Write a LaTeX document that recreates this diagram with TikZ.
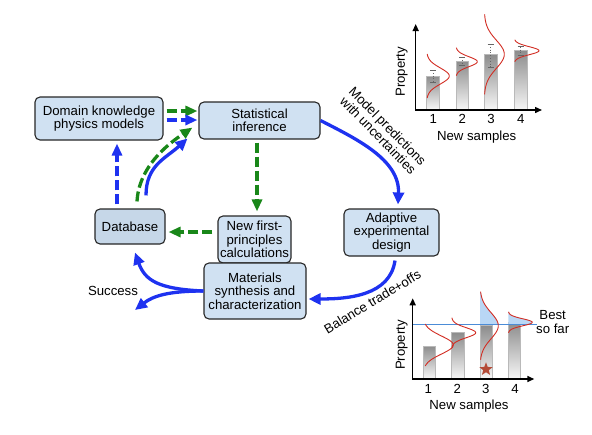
\documentclass[tikz,border=0pt]{standalone}
\usepackage{fontspec}
\setmainfont{Liberation Sans}
\usetikzlibrary{arrows.meta,shapes.geometric,positioning}
\definecolor{boxblue}{RGB}{208,225,242}
\definecolor{dbblue}{RGB}{198,215,232}
\definecolor{arrblue}{RGB}{30,50,240}
\definecolor{arrgreen}{RGB}{25,135,25}
\definecolor{gaussred}{RGB}{210,45,35}
\definecolor{bestblue}{RGB}{75,140,215}
\definecolor{shadeblue}{RGB}{185,215,245}
\definecolor{starred}{RGB}{180,75,55}

\begin{document}
\begin{tikzpicture}[x=1pt,y=1pt,
    box/.style={draw=black!85, line width=1.1pt, rounded corners=5pt, fill=boxblue, align=center, inner sep=0pt, font=\fontsize{13.2}{13.3}\selectfont},
    flow/.style={arrblue, line width=3.3pt, -{Triangle[length=12pt,width=11pt]}},
    bluedash/.style={arrblue, line width=3.3pt, dash pattern=on 10pt off 4pt, -{Triangle[length=12pt,width=10pt]}},
    greendash/.style={arrgreen, line width=3.3pt, dash pattern=on 10pt off 4pt, -{Triangle[length=12pt,width=10pt]}},
    lbl/.style={font=\fontsize{13.2}{13.3}\selectfont, inner sep=0pt, align=center},
    axis/.style={line width=1.4pt, {Triangle[length=7pt,width=6pt]}-{Triangle[length=7pt,width=6pt]}},
    bar/.style={draw=gray!55, line width=0.8pt, top color=gray!90, bottom color=gray!8},
    gauss/.style={gaussred, line width=0.9pt}]
  \useasboundingbox (0,0) rectangle (592,-434);

  % boxes of the loop
  \node[box, minimum width=128pt, minimum height=43pt] (dk) at (99,-118.5) {Domain knowledge\\physics models};
  \node[box, minimum width=121pt, minimum height=37pt] (st) at (259.5,-120.5) {Statistical\\inference};
  \node[box, fill=dbblue, minimum width=70pt, minimum height=35pt] (db) at (130,-226.5) {Database};
  \node[box, minimum width=73pt, minimum height=47pt] (nf) at (254.5,-239.5) {New first-\\principles\\calculations};
  \node[box, minimum width=102pt, minimum height=56pt] (ms) at (255,-291) {Materials\\synthesis and\\characterization};
  \node[box, minimum width=95pt, minimum height=47pt] (ae) at (391.5,-232.5) {Adaptive\\experimental\\design};
  \node[lbl] (sc) at (113,-291) {Success};
  \coordinate (succ) at (135,-310);

  % connectors
  \draw[greendash, shorten <=3pt, shorten >=1pt] ([yshift=7.5pt]dk.east) -- ([yshift=7.5pt]dk.east -| st.west);
  \draw[bluedash, shorten <=3pt, shorten >=1pt] ([yshift=-1.5pt]dk.east) -- ([yshift=-1.5pt]dk.east -| st.west);
  \draw[bluedash, shorten <=4pt, shorten >=3pt] ([xshift=-13pt]db.north) -- ([xshift=-13pt]db.north |- dk.south);
  \draw[greendash] ([xshift=7pt,yshift=7pt]db.north) .. controls +(2,35) and +(-25,-17) .. ([xshift=-6pt,yshift=12pt]st.south west);
  \draw[flow] ([xshift=16pt,yshift=13pt]db.north) .. controls +(0,30) and +(-22,-20) .. ([xshift=-11pt,yshift=1pt]st.south west);
  \draw[greendash, shorten <=3pt, shorten >=4pt] ([xshift=-2.5pt]st.south) -- ([xshift=-2.5pt]st.south |- nf.north);
  \draw[greendash, shorten <=5pt, shorten >=3pt] ([yshift=7.5pt]nf.west) -- ([yshift=7.5pt]nf.west -| db.east);
  \draw[flow] (st.east) .. controls +(35,-18) and +(2,45) .. ([xshift=6.5pt,yshift=4pt]ae.north);
  \draw[flow] ([xshift=3.5pt,yshift=-4pt]ae.south) .. controls +(-5,-35) and +(40,0) .. ([xshift=2pt,yshift=-8pt]ms.east);
  \draw[flow] (ms.west) .. controls +(-45,2) and +(10,-28) .. ([xshift=5pt,yshift=-8pt]db.south);
  \draw[flow] (ms.west) .. controls +(-35,0) and +(18,14) .. (succ);
  \node[lbl, rotate=-45.5] (mp) at (383,-130.7) {Model predictions\\with uncertainties};
  \node[lbl, rotate=31] (bt) at (372.3,-301.7) {Balance trade+offs};

  % top chart: predictions
  \foreach \xl/\tp/\elo/\ehi/\amp/\sig/\rng in {426.7/76/70/82.3/22.6/8/22, 456/61.7/57/65/21.3/5/14, 484.3/54.3/44/67.7/20/14/40, 514.3/50.7/46.7/55/24.7/4/11}{
    \fill[bar] (\xl,-\tp) rectangle (\xl+12.7,-109);
    \draw[gray!80!black, dotted, line width=0.8pt] (\xl+6.35,-\elo) -- (\xl+6.35,-\ehi);
    \draw[gray!80!black, line width=0.6pt] (\xl+3.35,-\elo) -- (\xl+9.35,-\elo) (\xl+3.35,-\ehi) -- (\xl+9.35,-\ehi);
    \draw[gauss] plot[variable=\t, domain=\tp-\rng:\tp+\rng, samples=50, smooth] ({\xl+\amp*exp(-((\t-\tp)^2)/(2*\sig*\sig))},{-\t});
  }
  \draw[axis] (415.7,-24) -- (415.7,-110) -- (542,-110);
  \foreach \xc/\n in {433.3/1, 462.3/2, 491/3, 520.7/4}
    \node[lbl] at (\xc,-118.5) {\n};
  \node[lbl] (ns1) at (476.7,-136.7) {New samples};
  \node[lbl, rotate=90] (pr1) at (401.7,-71.7) {Property};

  % bottom chart: best so far
  \foreach \xl/\tp/\amp/\sig/\rng in {423.3/346/30/9/21, 451.7/332.7/24/5/15, 480/325.7/18.3/13/34, 508.3/322.3/24/3.5/10.5}{
    \fill[bar] (\xl,-\tp) rectangle (\xl+12.3,-378);
  }
  \foreach \xl/\tp/\amp/\sig/\rng in {480/325.7/18.3/13/34, 508.3/322.3/24/3.5/10.5}{
    \fill[shadeblue] (\xl,-\tp+\rng) -- plot[variable=\t, domain=\tp-\rng:324.3, samples=40, smooth] ({\xl+\amp*exp(-((\t-\tp)^2)/(2*\sig*\sig))},{-\t}) -- (\xl,-324.3) -- cycle;
  }
  \draw[bestblue, line width=1.3pt] (413,-324.3) -- (536.7,-324.3);
  \foreach \xl/\tp/\amp/\sig/\rng in {423.3/345/30/9/21, 451.7/332.7/24/5/15, 480/325.7/18.3/13/34, 508.3/322.3/24/3.5/10.5}{
    \draw[gauss] plot[variable=\t, domain=\tp-\rng:\tp+\rng, samples=50, smooth] ({\xl+\amp*exp(-((\t-\tp)^2)/(2*\sig*\sig))},{-\t});
  }
  \node[star, star points=5, star point ratio=2.4, fill=starred, minimum size=14pt, inner sep=0pt] (bs) at (486,-369.3) {};
  \draw[axis] (412.7,-298.3) -- (412.7,-379) -- (534.3,-379);
  \foreach \xc/\n in {428.3/1, 457.3/2, 485.7/3, 515/4}
    \node[lbl] at (\xc,-388.5) {\n};
  \node[lbl] (ns2) at (469,-406) {New samples};
  \node[lbl, rotate=90] (pr2) at (401.7,-345) {Property};
  \node[lbl] (bf) at (552.7,-322) {Best\\so far};
\end{tikzpicture}
\end{document}
